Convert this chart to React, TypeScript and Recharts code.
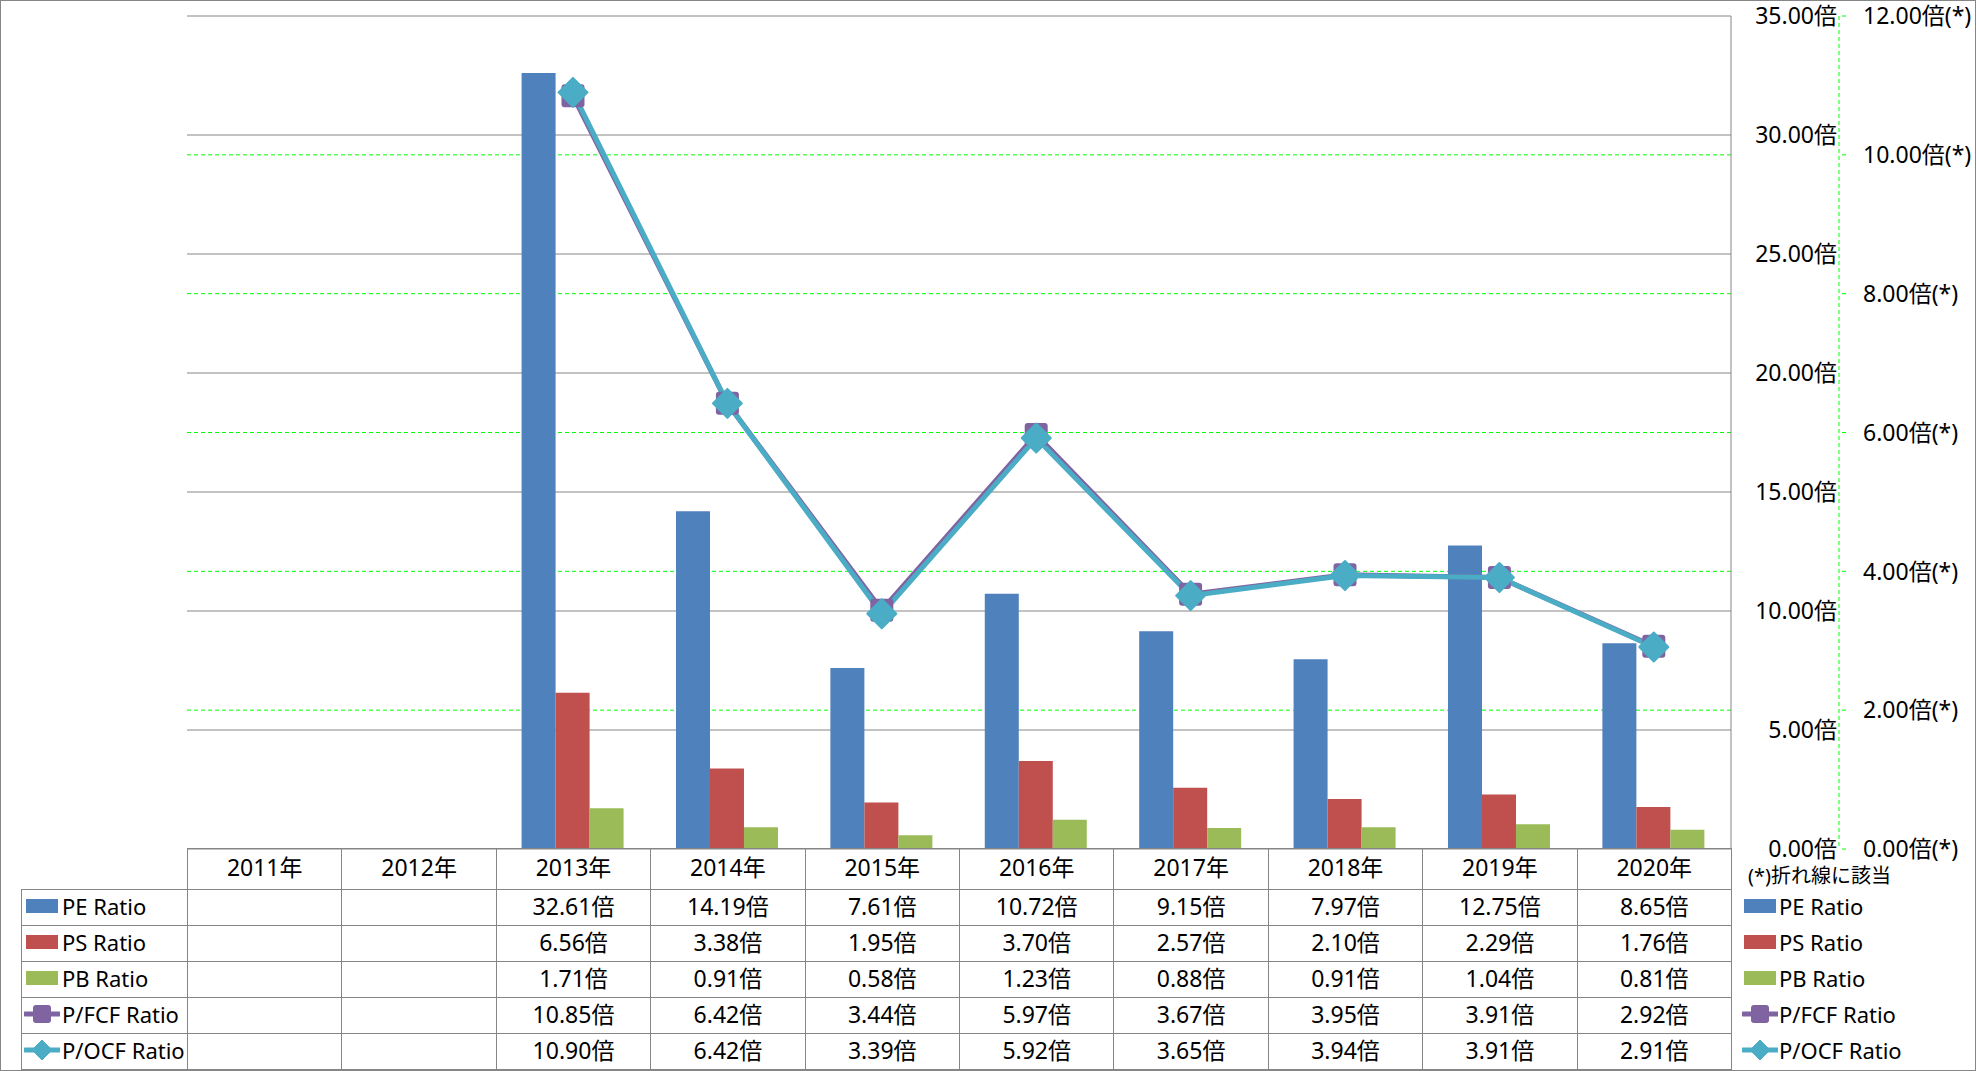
import React from "react";
import { Bar, CartesianGrid, ComposedChart, Line, XAxis, YAxis } from "recharts";

const years = ["2011年", "2012年", "2013年", "2014年", "2015年", "2016年", "2017年", "2018年", "2019年", "2020年"];
const peRatio = [null, null, 32.61, 14.19, 7.61, 10.72, 9.15, 7.97, 12.75, 8.65];
const psRatio = [null, null, 6.56, 3.38, 1.95, 3.7, 2.57, 2.1, 2.29, 1.76];
const pbRatio = [null, null, 1.71, 0.91, 0.58, 1.23, 0.88, 0.91, 1.04, 0.81];
const pfcfRatio = [null, null, 10.85, 6.42, 3.44, 5.97, 3.67, 3.95, 3.91, 2.92];
const pocfRatio = [null, null, 10.9, 6.42, 3.39, 5.92, 3.65, 3.94, 3.91, 2.91];

const barTicks = [0, 5, 10, 15, 20, 25, 30, 35];
const lineTicks = [0, 2, 4, 6, 8, 10, 12];

const BLUE = "#4F81BD";
const RED = "#C0504D";
const GREEN = "#9BBB59";
const PURPLE = "#8064A2";
const CYAN = "#4BACC6";
const GRID = "#868686";
const FONT = "'Noto Sans', 'Noto Sans CJK JP', sans-serif";
const FS = 23;

const W = 1976;
const H = 1071;
const PLOT_LEFT = 187;
const PLOT_TOP = 16;
const PLOT_RIGHT = 1731;
const PLOT_BOTTOM = 849;
const COL_W = (PLOT_RIGHT - PLOT_LEFT) / years.length;
const ROW_H = 36;
const HEAD_TOP = 848;
const BODY_TOP = 889;

const data = years.map((year, i) => ({
  year,
  pe: peRatio[i],
  ps: psRatio[i],
  pb: pbRatio[i],
  pfcf: pfcfRatio[i],
  pocf: pocfRatio[i],
}));

const rows = [
  { name: "PE Ratio", values: peRatio, kind: "bar", color: BLUE },
  { name: "PS Ratio", values: psRatio, kind: "bar", color: RED },
  { name: "PB Ratio", values: pbRatio, kind: "bar", color: GREEN },
  { name: "P/FCF Ratio", values: pfcfRatio, kind: "square", color: PURPLE },
  { name: "P/OCF Ratio", values: pocfRatio, kind: "diamond", color: CYAN },
];

const fmt = (v: number | null) => (v == null ? "" : v.toFixed(2) + "倍");

function LeftTick({ x, y, payload }: any) {
  return (
    <text x={x} y={y} dy="0.36em" textAnchor="end" fontSize={FS} fontFamily={FONT} fill="#000">
      {payload.value.toFixed(2)}倍
    </text>
  );
}

function RightTick({ x, y, payload }: any) {
  return (
    <text x={x} y={y} dy="0.36em" textAnchor="start" fontSize={FS} fontFamily={FONT} fill="#000">
      {payload.value.toFixed(2)}倍(*)
    </text>
  );
}

function SquareDot(props: any) {
  const { cx, cy, index } = props;
  if (cx == null || cy == null) return <g key={index} />;
  return <rect key={index} x={cx - 11.5} y={cy - 11.5} width={23} height={23} rx={3} fill={PURPLE} />;
}

function DiamondDot(props: any) {
  const { cx, cy, index } = props;
  if (cx == null || cy == null) return <g key={index} />;
  const r = 14.5;
  return (
    <path
      key={index}
      d={`M${cx},${cy - r}L${cx + r},${cy}L${cx},${cy + r}L${cx - r},${cy}Z`}
      fill={CYAN}
      stroke={CYAN}
      strokeWidth={2}
      strokeLinejoin="round"
    />
  );
}

function Swatch({ kind, color }: { kind: string; color: string }) {
  if (kind === "bar") {
    return (
      <svg width={36} height={20} style={{ display: "block", flex: "none" }}>
        <rect x={2} y={3} width={32} height={14} fill={color} />
      </svg>
    );
  }
  return (
    <svg width={36} height={20} style={{ display: "block", flex: "none" }}>
      <line x1={1} y1={10} x2={36} y2={10} stroke={color} strokeWidth={5} strokeLinecap="round" />
      {kind === "square" ? (
        <rect x={9} y={1} width={18} height={18} rx={3} fill={color} />
      ) : (
        <path d="M18,0L28,10L18,20L8,10Z" fill={color} stroke={color} strokeLinejoin="round" />
      )}
    </svg>
  );
}

const cellText: React.CSSProperties = {
  position: "absolute",
  display: "flex",
  alignItems: "center",
  justifyContent: "center",
  fontSize: FS,
  lineHeight: 1,
  color: "#000",
  boxSizing: "border-box",
  paddingBottom: 3,
  whiteSpace: "nowrap",
};

function Table() {
  const line = `1px solid ${GRID}`;
  return (
    <>
      {years.map((y, c) => (
        <div
          key={y}
          style={{
            ...cellText,
            left: PLOT_LEFT + c * COL_W,
            top: HEAD_TOP,
            width: COL_W + 1,
            height: BODY_TOP - HEAD_TOP + 1,
            border: line,
          }}
        >
          {y}
        </div>
      ))}
      {rows.map((row, r) => (
        <React.Fragment key={row.name}>
          <div
            style={{
              ...cellText,
              justifyContent: "flex-start",
              left: 21,
              top: BODY_TOP + r * ROW_H,
              width: PLOT_LEFT - 21 + 1,
              height: ROW_H + 1,
              border: line,
              paddingLeft: 2,
              fontSize: 22,
            }}
          >
            <Swatch kind={row.kind} color={row.color} />
            <span style={{ marginLeft: 2 }}>{row.name}</span>
          </div>
          {row.values.map((v, c) => (
            <div
              key={c}
              style={{
                ...cellText,
                left: PLOT_LEFT + c * COL_W,
                top: BODY_TOP + r * ROW_H,
                width: COL_W + 1,
                height: ROW_H + 1,
                border: line,
              }}
            >
              {fmt(v)}
            </div>
          ))}
          <div
            style={{
              ...cellText,
              justifyContent: "flex-start",
              left: 1742,
              top: BODY_TOP + r * ROW_H,
              height: ROW_H,
              fontSize: 22,
            }}
          >
            <Swatch kind={row.kind} color={row.color} />
            <span style={{ marginLeft: 1 }}>{row.name}</span>
          </div>
        </React.Fragment>
      ))}
      <div style={{ ...cellText, left: 1748, top: 862, height: 30, fontSize: 20 }}>(*)折れ線に該当</div>
    </>
  );
}

export default function App() {
  return (
    <div
      style={{
        position: "absolute",
        left: 0,
        top: 0,
        width: W,
        height: H,
        background: "#fff",
        fontFamily: FONT,
        overflow: "hidden",
      }}
    >
      <ComposedChart
        width={W}
        height={H}
        data={data}
        margin={{ top: PLOT_TOP, left: PLOT_LEFT, right: 0, bottom: H - PLOT_BOTTOM }}
        barCategoryGap="16.7%"
        barGap={0}
      >
        <XAxis dataKey="year" hide />
        <YAxis
          yAxisId="pri"
          orientation="right"
          width={108}
          domain={[0, 35]}
          ticks={barTicks}
          interval={0}
          axisLine={{ stroke: GRID }}
          tickLine={false}
          tickSize={0}
          tickMargin={106}
          tick={<LeftTick />}
        />
        <YAxis
          yAxisId="sec"
          orientation="right"
          width={137}
          domain={[0, 12]}
          ticks={lineTicks}
          interval={0}
          axisLine={{ stroke: "#00FF00", strokeDasharray: "4 3" }}
          tickLine={{ stroke: "#00FF00", strokeDasharray: "4 3" }}
          tickSize={7}
          tickMargin={17}
          tick={<RightTick />}
        />
        <CartesianGrid yAxisId="pri" vertical={false} stroke={GRID} />
        <CartesianGrid yAxisId="sec" vertical={false} stroke="#00FF00" strokeDasharray="4 3" horizontalValues={lineTicks.slice(1, -1)} />
        <Bar yAxisId="pri" dataKey="pe" fill={BLUE} isAnimationActive={false} />
        <Bar yAxisId="pri" dataKey="ps" fill={RED} isAnimationActive={false} />
        <Bar yAxisId="pri" dataKey="pb" fill={GREEN} isAnimationActive={false} />
        <Line
          yAxisId="sec"
          dataKey="pfcf"
          stroke={PURPLE}
          strokeWidth={5}
          dot={SquareDot}
          activeDot={false}
          isAnimationActive={false}
        />
        <Line
          yAxisId="sec"
          dataKey="pocf"
          stroke={CYAN}
          strokeWidth={5}
          dot={DiamondDot}
          activeDot={false}
          isAnimationActive={false}
        />
      </ComposedChart>
      <div style={{ position: "absolute", left: 0, top: 0, width: W, height: H, fontFamily: FONT }}>
        <Table />
      </div>
      <div
        style={{
          position: "absolute",
          left: 0,
          top: 0,
          width: W,
          height: H,
          boxSizing: "border-box",
          border: `1px solid ${GRID}`,
          pointerEvents: "none",
        }}
      />
    </div>
  );
}
